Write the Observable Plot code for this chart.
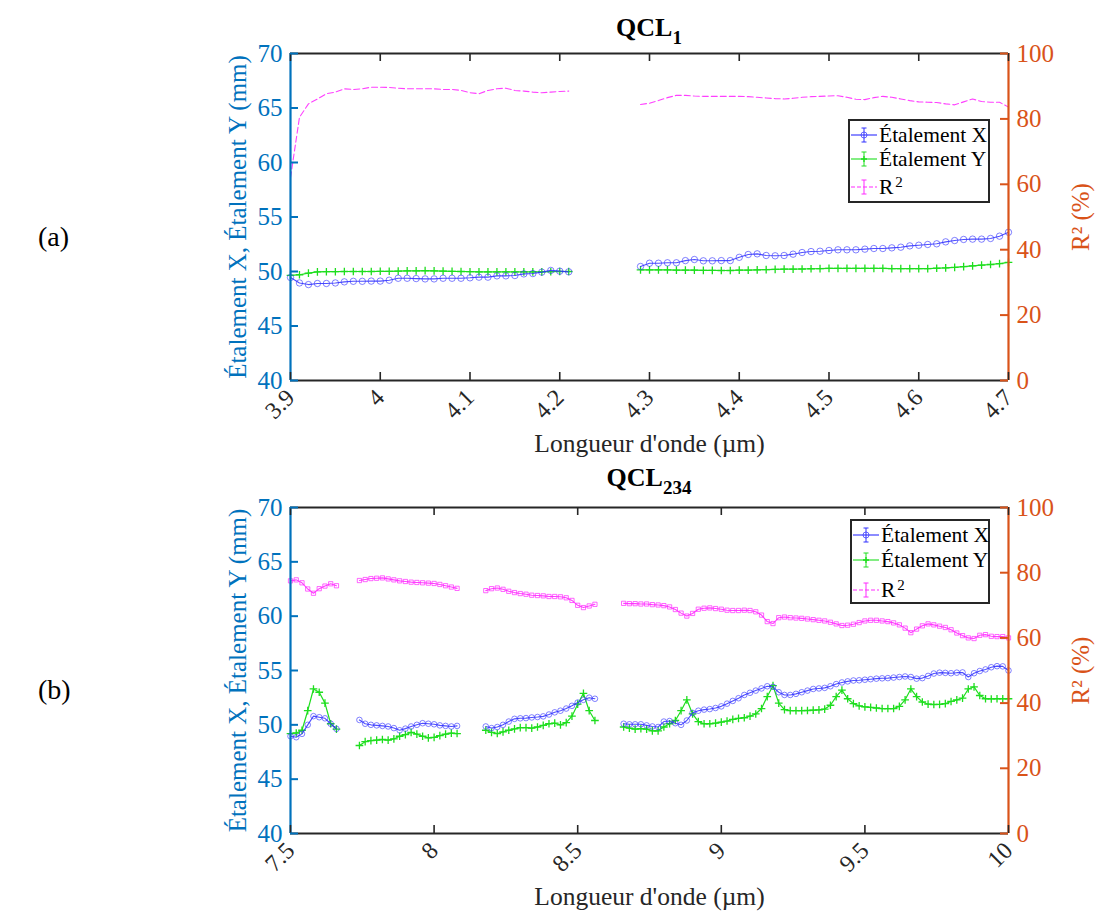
<!DOCTYPE html>
<html><head><meta charset="utf-8">
<script src="https://cdn.jsdelivr.net/npm/d3@7"></script>
<script src="https://cdn.jsdelivr.net/npm/@observablehq/plot@0.6"></script>
<style>
body{margin:0;background:#fff;}
#fig{position:relative;width:1096px;height:915px;font-family:'Liberation Serif','Times New Roman',serif;overflow:hidden;}
#fig svg, #fig svg text{font-family:'Liberation Serif','Times New Roman',serif !important;}
.panel{position:absolute;left:0;}
.title{position:absolute;left:290px;width:718px;text-align:center;font-weight:bold;font-size:26px;line-height:30px;color:#000;}
.title sub{font-size:19px;vertical-align:-8px;line-height:0;}
.plab{position:absolute;left:38px;font-size:28px;line-height:32px;color:#000;}
.legend{position:absolute;border:2px solid #262626;background:#fff;box-sizing:border-box;}
.row{position:absolute;left:0;height:24px;display:flex;align-items:center;font-size:21.5px;white-space:nowrap;color:#000;}
.row svg{margin-right:1px;}
.row sup{font-size:15px;vertical-align:7px;line-height:0;margin-left:2px;}
</style></head>
<body>
<div id="fig">
  <div id="p1" class="panel" style="top:0px"></div>
  <div id="p2" class="panel" style="top:455px"></div>
  <div class="title" style="top:13px">QCL<sub>1</sub></div>
  <div class="title" style="top:463px">QCL<sub>234</sub></div>
  <div class="plab" style="top:221px">(a)</div>
  <div class="plab" style="top:674px">(b)</div>
  <div id="leg1" class="legend" style="left:848px;top:119px;width:142px;height:84px"></div>
  <div id="leg2" class="legend" style="left:850px;top:519px;width:140px;height:85px"></div>
</div>
<script>
// ---------- Panel (a) : QCL1 ----------
const lam1a = [3.90,3.91,3.92,3.93,3.94,3.95,3.96,3.97,3.98,3.99,4.00,4.01,4.02,4.03,4.04,4.05,4.06,4.07,4.08,4.09,4.10,4.11,4.12,4.13,4.14,4.15,4.16,4.17,4.18,4.19,4.20,4.21];
const X1a = [49.45,48.95,48.8,48.9,48.9,48.95,49.05,49.1,49.1,49.12,49.12,49.2,49.38,49.38,49.35,49.32,49.32,49.38,49.38,49.38,49.42,49.48,49.48,49.6,49.6,49.63,49.78,49.81,49.94,50.1,50.03,49.97];
const Y1a = [49.65,49.7,49.85,49.97,49.98,49.98,50.0,50.0,50.0,50.0,50.02,50.02,50.04,50.05,50.06,50.08,50.06,50.04,50.02,50.0,49.98,49.97,49.96,49.96,49.96,49.96,49.97,49.97,49.97,49.98,50.0,50.0];
const R1a = [62,80.5,84.6,86.1,87.7,88.2,89.2,89.0,89.2,89.7,89.7,89.6,89.4,89.2,89.2,89.2,89.2,89.0,89.0,88.7,88.0,87.7,88.7,89.2,89.4,88.7,88.5,88.2,88.0,88.2,88.4,88.5];

const lam1b = [4.29,4.30,4.31,4.32,4.33,4.34,4.35,4.36,4.37,4.38,4.39,4.40,4.41,4.42,4.43,4.44,4.45,4.46,4.47,4.48,4.49,4.50,4.51,4.52,4.53,4.54,4.55,4.56,4.57,4.58,4.59,4.60,4.61,4.62,4.63,4.64,4.65,4.66,4.67,4.68,4.69,4.70];
const X1b = [50.46,50.76,50.76,50.8,50.8,51.0,51.1,50.98,50.98,51.0,51.0,51.3,51.56,51.62,51.47,51.44,51.47,51.59,51.74,51.83,51.86,51.93,51.99,51.99,51.99,52.05,52.11,52.11,52.17,52.23,52.35,52.41,52.48,52.54,52.72,52.84,52.94,52.97,52.97,53.03,53.24,53.6];
const Y1b = [50.15,50.15,50.15,50.15,50.13,50.13,50.13,50.11,50.1,50.09,50.09,50.12,50.13,50.15,50.17,50.2,50.21,50.22,50.23,50.25,50.27,50.28,50.28,50.28,50.28,50.28,50.28,50.28,50.27,50.27,50.27,50.27,50.27,50.3,50.33,50.38,50.45,50.52,50.58,50.64,50.72,50.83];
const R1b = [84.4,84.8,85.6,86.5,87.2,87.2,87.0,86.9,86.9,86.9,86.9,86.9,86.8,86.6,86.4,86.2,86.1,86.3,86.6,86.8,86.9,87.0,87.1,86.6,86.0,85.9,86.5,86.9,86.6,86.1,85.6,85.2,85.1,85.0,84.6,84.3,85.2,86.1,85.3,85.1,85.1,83.6];

const xTicks1 = [3.9,4.0,4.1,4.2,4.3,4.4,4.5,4.6,4.7];
const xTickLabels1 = ["3.9","4","4.1","4.2","4.3","4.4","4.5","4.6","4.7"];

// ---------- Panel (b) : QCL234 ----------
const lam2a = [7.50,7.52,7.54,7.56,7.58,7.60,7.62,7.64,7.66];
const X2a = [48.95,48.86,49.17,50.0,50.8,50.7,50.6,50.1,49.63];
const Y2a = [49.2,49.25,49.5,51.3,53.3,53.0,52.0,50.1,49.6];
const R2a = [77.5,77.8,76.9,75.0,73.7,75.1,75.9,76.6,76.0];

const lam2b = [7.74,7.76,7.78,7.80,7.82,7.84,7.86,7.88,7.90,7.92,7.94,7.96,7.98,8.00,8.02,8.04,8.06,8.08];
const X2b = [50.45,50.1,50.0,49.95,49.9,49.85,49.7,49.5,49.65,49.85,50.0,50.15,50.1,50.05,49.95,49.9,49.85,49.9];
const Y2b = [48.1,48.45,48.55,48.6,48.65,48.6,48.7,48.95,49.1,49.3,49.15,48.95,48.8,48.85,49.0,49.15,49.23,49.2];
const R2b = [77.6,77.9,78.2,78.3,78.4,78.1,77.8,77.5,77.3,77.1,77.0,76.9,76.8,76.7,76.4,76.0,75.6,75.2];

const lam2c = [8.18,8.20,8.22,8.24,8.26,8.28,8.30,8.32,8.34,8.36,8.38,8.40,8.42,8.44,8.46,8.48,8.50,8.52,8.54,8.56];
const X2c = [49.85,49.7,49.8,50.0,50.3,50.55,50.6,50.62,50.68,50.72,50.78,50.95,51.15,51.3,51.5,51.75,52.05,52.3,52.5,52.4];
const Y2c = [49.5,49.3,49.2,49.35,49.5,49.62,49.75,49.75,49.7,49.8,49.95,50.1,50.15,50.0,50.2,50.8,51.9,52.9,51.3,50.4];
const R2c = [74.5,75.1,75.3,74.9,74.3,73.9,73.6,73.4,73.1,73.0,72.9,72.7,72.7,72.6,72.3,71.5,70.0,69.3,69.8,70.3];

const lam2d = [8.66,8.68,8.70,8.72,8.74,8.76,8.78,8.80,8.82,8.84,8.86,8.88,8.90,8.92,8.94,8.96,8.98,9.00,9.02,9.04,9.06,9.08,9.10,9.12,9.14,9.16,9.18,9.20,9.22,9.24,9.26,9.28,9.30,9.32,9.34,9.36,9.38,9.40,9.42,9.44,9.46,9.48,9.50,9.52,9.54,9.56,9.58,9.60,9.62,9.64,9.66,9.68,9.70,9.72,9.74,9.76,9.78,9.80,9.82,9.84,9.86,9.88,9.90,9.92,9.94,9.96,9.98,10.00];
const X2d = [50.1,50.05,50.05,50.05,49.95,49.85,49.8,50.3,50.35,50.15,50.0,50.4,51.1,51.3,51.4,51.45,51.55,51.7,51.95,52.2,52.45,52.75,52.95,53.15,53.35,53.55,53.5,53.0,52.75,52.75,52.85,53.0,53.15,53.3,53.35,53.4,53.55,53.75,53.9,54.0,54.08,54.1,54.15,54.2,54.25,54.28,54.3,54.35,54.4,54.45,54.4,54.25,54.3,54.5,54.72,54.8,54.78,54.75,54.8,54.82,54.4,54.75,54.95,55.1,55.3,55.4,55.38,55.0];
const Y2d = [49.8,49.7,49.6,49.65,49.6,49.45,49.45,49.8,50.1,50.4,51.3,52.3,51.0,50.3,50.1,50.1,50.15,50.25,50.35,50.5,50.6,50.65,50.8,51.0,51.5,52.6,53.6,52.0,51.4,51.3,51.3,51.3,51.32,51.35,51.38,51.45,51.8,52.6,53.2,52.4,51.95,51.75,51.65,51.6,51.55,51.5,51.5,51.5,51.7,52.3,53.3,52.6,52.1,51.9,51.87,51.88,51.95,52.15,52.3,52.45,53.3,53.5,52.7,52.4,52.38,52.4,52.4,52.4];
const R2d = [70.6,70.5,70.5,70.4,70.4,70.2,70.1,69.9,69.5,68.7,67.6,66.7,67.5,68.8,69.1,69.2,69.0,68.8,68.5,68.4,68.4,68.5,68.4,68.0,67.0,65.0,64.4,66.2,66.4,66.2,66.1,66.0,65.8,65.6,65.4,65.2,64.8,64.3,63.8,63.9,64.2,64.7,65.2,65.4,65.4,65.2,65.0,64.6,64.0,63.0,61.6,62.7,63.7,64.3,64.0,63.6,63.2,62.5,61.5,60.7,60.0,59.8,60.8,61.0,60.5,60.4,60.4,60.0];

const xTicks2 = [7.5,8,8.5,9,9.5,10];
const xTickLabels2 = ["7.5","8","8.5","9","9.5","10"];

// ---------- shared axes ----------
const yTicks = [40,45,50,55,60,65,70];
const rTicks = [0,20,40,60,80,100];
const rTickLabels = ["0","20","40","60","80","100"];
const yLabel = "Étalement X, Étalement Y (mm)";
const rLabel = "R² (%)";
const xLabel = "Longueur d'onde (µm)";
const legendNames = ["Étalement X","Étalement Y","R"];

const COL = {axisL:"#0072BD", axisR:"#D95319", frame:"#262626", X:"#2f2fff", Y:"#1ede1e", R:"#ff2bff"};
const FONT = "Liberation Serif";

// dual axis: R² (0–100 %) drawn on the 40–70 mm scale
const rToY = r => 40 + r * 0.3;

function rows(lams, vals, seg, f = v => v) {
  return lams.map((l, i) => ({lam: l, v: f(vals[i]), seg}));
}

function panel({segs, xDomain, xTicks, xTickLabels, height, marginTop, marginBottom, dense}) {
  const W = 1096, ml = 290, mr = 88;
  const plotW = W - ml - mr, plotH = height - marginTop - marginBottom;
  const Xd = segs.flatMap((s, k) => rows(s.lam, s.X, k));
  const Yd = segs.flatMap((s, k) => rows(s.lam, s.Y, k));
  const Rd = segs.flatMap((s, k) => rows(s.lam, s.R, k, rToY));
  const rPos = rTicks.map(rToY);
  const tk = 8;
  return Plot.plot({
    width: W, height, marginLeft: ml, marginRight: mr, marginTop, marginBottom,
    x: {domain: xDomain},
    y: {domain: [40, 70]},
    style: {fontFamily: FONT, background: "transparent", overflow: "visible"},
    marks: [
      // R²
      Plot.line(Rd, {x: "lam", y: "v", z: "seg", stroke: COL.R, strokeWidth: 1.1, strokeDasharray: dense ? null : "6,3", strokeOpacity: 0.9}),
      dense ? Plot.dot(Rd, {x: "lam", y: "v", symbol: "square", r: 2.4, stroke: COL.R, fill: "none", strokeWidth: 0.9, strokeOpacity: 0.8}) : null,
      // Étalement Y
      Plot.line(Yd, {x: "lam", y: "v", z: "seg", stroke: COL.Y, strokeWidth: 1.2}),
      Plot.dot(Yd, {x: "lam", y: "v", symbol: "plus", r: 2.6, stroke: COL.Y, strokeWidth: 1.3}),
      // Étalement X
      Plot.line(Xd, {x: "lam", y: "v", z: "seg", stroke: COL.X, strokeWidth: 1.1, strokeOpacity: 0.85}),
      Plot.dot(Xd, {x: "lam", y: "v", r: dense ? 2.8 : 3.2, stroke: COL.X, fill: "none", strokeWidth: 1, strokeOpacity: 0.6}),
      // frame
      Plot.ruleY([40, 70], {stroke: COL.frame, strokeWidth: 2}),
      Plot.ruleX([xDomain[0]], {stroke: COL.axisL, strokeWidth: 2.2}),
      Plot.ruleX([xDomain[1]], {stroke: COL.axisR, strokeWidth: 2.2}),
      // inward ticks
      Plot.tickX(xTicks, {x: d => d, insetTop: plotH - tk, stroke: COL.frame, strokeWidth: 1.6}),
      Plot.tickX(xTicks, {x: d => d, insetBottom: plotH - tk, stroke: COL.frame, strokeWidth: 1.6}),
      Plot.tickY(yTicks, {y: d => d, insetRight: plotW - tk, stroke: COL.axisL, strokeWidth: 2}),
      Plot.tickY(rPos, {y: d => d, insetLeft: plotW - tk, stroke: COL.axisR, strokeWidth: 2}),
      // axes
      Plot.axisX(xTicks, {tickSize: 0, tickPadding: 13, tickRotate: -45, fontSize: 24, color: "#262626", fontFamily: FONT,
        tickFormat: d => xTickLabels[xTicks.indexOf(d)], label: null}),
      Plot.text([xLabel], {frameAnchor: "bottom", lineAnchor: "bottom", dy: 71, fontSize: 25.5, fill: "#262626", fontFamily: FONT}),
      Plot.axisY(yTicks, {anchor: "left", tickSize: 0, tickPadding: 8, fontSize: 25, color: COL.axisL, fontFamily: FONT,
        label: yLabel, labelArrow: "none", labelAnchor: "center", labelOffset: 62}),
      Plot.axisY(rPos, {anchor: "right", tickSize: 0, tickPadding: 8, fontSize: 25, color: COL.axisR, fontFamily: FONT,
        tickFormat: d => rTickLabels[rPos.indexOf(d)],
        label: rLabel, labelArrow: "none", labelAnchor: "center", labelOffset: 80})
    ]
  });
}

document.getElementById("p1").append(panel({
  segs: [{lam: lam1a, X: X1a, Y: Y1a, R: R1a}, {lam: lam1b, X: X1b, Y: Y1b, R: R1b}],
  xDomain: [3.9, 4.7], xTicks: xTicks1, xTickLabels: xTickLabels1,
  height: 455, marginTop: 53, marginBottom: 75, dense: false
}));
document.getElementById("p2").append(panel({
  segs: [{lam: lam2a, X: X2a, Y: Y2a, R: R2a}, {lam: lam2b, X: X2b, Y: Y2b, R: R2b},
         {lam: lam2c, X: X2c, Y: Y2c, R: R2c}, {lam: lam2d, X: X2d, Y: Y2d, R: R2d}],
  xDomain: [7.5, 10], xTicks: xTicks2, xTickLabels: xTickLabels2,
  height: 460, marginTop: 52, marginBottom: 82, dense: true
}));

// ---------- legends ----------
function sample(kind) {
  const c = kind === 0 ? COL.X : kind === 1 ? COL.Y : COL.R;
  const dash = kind === 2 ? ' stroke-dasharray="4,2"' : '';
  let mk = '';
  if (kind === 0) mk = `<circle cx="14" cy="12" r="3" fill="none" stroke="${c}" stroke-opacity="0.7"/>`;
  if (kind === 1) mk = `<path d="M11,12H17M14,9V15" stroke="${c}" stroke-width="1.3"/>`;
  return `<svg width="28" height="24"><line x1="1" y1="12" x2="27" y2="12" stroke="${c}" stroke-width="1.1"${dash}/>` +
    `<path d="M14,5V19M11.5,5H16.5M11.5,19H16.5" stroke="${c}" stroke-width="1"/>${mk}</svg>`;
}
function legend(id, tops) {
  const el = document.getElementById(id);
  el.innerHTML = legendNames.map((n, i) =>
    `<div class="row" style="top:${tops[i]}px">${sample(i)}<span>${n}${i === 2 ? '<sup>2</sup>' : ''}</span></div>`).join("");
}
legend("leg1", [2, 26, 54]);
legend("leg2", [2, 27, 57]);
</script>
</body></html>
